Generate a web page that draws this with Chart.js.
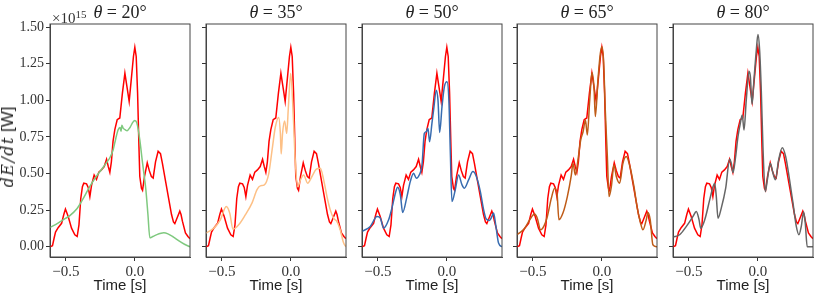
<!DOCTYPE html>
<html>
<head>
<meta charset="utf-8">
<script src="https://cdn.jsdelivr.net/npm/chart.js@4.4.1/dist/chart.umd.min.js"></script>
<style>
  body { margin: 0; background: #fff; }
  #wrap { position: relative; width: 830px; height: 297px; overflow: hidden; }
  canvas { position: absolute; top: 0; }
  .ttl { position: absolute; top: 4px; width: 140px; text-align: center; font-family: 'Liberation Serif', serif; font-size: 18px; line-height: 17px; color: #222; white-space: nowrap; }
  .ttl i { font-style: italic; }
  #offset { position: absolute; left: 52px; top: 7px; font-family: 'Liberation Serif', serif; font-size: 15px; line-height: 15px; color: #333; }
  #offset sup { font-size: 11px; vertical-align: 5px; }
  #ylab { position: absolute; left: 8px; top: 147px; transform: translate(-50%, -50%) rotate(-90deg); white-space: nowrap; color: #222; }
  #ylab i { font-family: 'DejaVu Serif', serif; font-size: 16px; letter-spacing: 1.5px; }
  #ylab span { font-family: 'Liberation Sans', sans-serif; font-size: 17px; }
</style>
</head>
<body>
<div id="wrap">
  <canvas id="c0"></canvas>
  <canvas id="c1"></canvas>
  <canvas id="c2"></canvas>
  <canvas id="c3"></canvas>
  <canvas id="c4"></canvas>
  <div id="offset">×10<sup>15</sup></div>
  <div id="ylab"><i>dE/dt</i> <span>[W]</span></div>
</div>
<script>
// Углы наблюдения
const angles = [20, 35, 50, 65, 80];

// Опорная кривая (красная), одинаковая во всех панелях
const refTime = [-0.615, -0.597, -0.585, -0.575, -0.556, -0.531, -0.515, -0.503, -0.483, -0.459, -0.435, -0.418, -0.405, -0.392, -0.38, -0.37, -0.35, -0.338, -0.326, -0.314, -0.295, -0.278, -0.261, -0.242, -0.222, -0.205, -0.193, -0.181, -0.17, -0.158, -0.145, -0.128, -0.109, -0.09, -0.072, -0.058, -0.041, -0.025, -0.01, 0.0, 0.01, 0.02, 0.03, 0.036, 0.048, 0.056, 0.07, 0.09, 0.105, 0.12, 0.133, 0.15, 0.169, 0.186, 0.2, 0.225, 0.245, 0.266, 0.28, 0.29, 0.302, 0.326, 0.335, 0.345, 0.367, 0.385, 0.4];
const refPower = [0.0, 0.007, 0.06, 0.10, 0.13, 0.16, 0.22, 0.257, 0.207, 0.127, 0.082, 0.07, 0.15, 0.33, 0.41, 0.434, 0.43, 0.405, 0.343, 0.42, 0.49, 0.46, 0.51, 0.525, 0.548, 0.598, 0.55, 0.508, 0.58, 0.72, 0.80, 0.868, 0.88, 1.05, 1.186, 1.10, 0.993, 1.15, 1.30, 1.363, 1.30, 1.05, 0.68, 0.48, 0.40, 0.386, 0.48, 0.573, 0.52, 0.48, 0.47, 0.58, 0.652, 0.636, 0.57, 0.436, 0.33, 0.22, 0.17, 0.159, 0.186, 0.243, 0.22, 0.175, 0.095, 0.07, 0.055];

// theta = 20
const time20 = [-0.615, -0.56, -0.5, -0.471, -0.42, -0.38, -0.326, -0.28, -0.24, -0.205, -0.18, -0.157, -0.138, -0.121, -0.108, -0.1, -0.094, -0.085, -0.07, -0.056, -0.035, -0.015, 0.0, 0.015, 0.036, 0.055, 0.07, 0.08, 0.095, 0.109, 0.13, 0.16, 0.19, 0.21, 0.24, 0.28, 0.32, 0.36, 0.4];
const power20 = [0.132, 0.16, 0.195, 0.213, 0.26, 0.32, 0.413, 0.48, 0.53, 0.575, 0.61, 0.663, 0.74, 0.80, 0.815, 0.79, 0.83, 0.81, 0.80, 0.793, 0.815, 0.85, 0.863, 0.845, 0.73, 0.58, 0.47, 0.39, 0.22, 0.061, 0.07, 0.083, 0.092, 0.095, 0.088, 0.066, 0.04, 0.017, 0.0];

// theta = 35
const time35 = [-0.615, -0.559, -0.511, -0.468, -0.443, -0.419, -0.378, -0.33, -0.281, -0.245, -0.221, -0.192, -0.16, -0.136, -0.112, -0.088, -0.076, -0.07, -0.06, -0.045, -0.03, -0.018, -0.001, 0.018, 0.032, 0.05, 0.07, 0.093, 0.122, 0.153, 0.185, 0.214, 0.238, 0.262, 0.286, 0.31, 0.334, 0.358, 0.383, 0.4];
const power35 = [0.093, 0.127, 0.184, 0.275, 0.23, 0.12, 0.15, 0.218, 0.30, 0.39, 0.416, 0.423, 0.50, 0.66, 0.82, 0.884, 0.775, 0.634, 0.775, 0.86, 0.775, 0.95, 1.184, 0.89, 0.59, 0.41, 0.457, 0.49, 0.434, 0.48, 0.53, 0.536, 0.457, 0.343, 0.252, 0.195, 0.173, 0.116, 0.025, 0.0];

// theta = 50
const time50 = [-0.615, -0.555, -0.506, -0.482, -0.458, -0.422, -0.398, -0.373, -0.357, -0.337, -0.32, -0.289, -0.265, -0.241, -0.221, -0.2, -0.18, -0.163, -0.149, -0.137, -0.125, -0.108, -0.096, -0.076, -0.064, -0.052, -0.035, -0.018, 0.001, 0.015, 0.025, 0.037, 0.061, 0.085, 0.11, 0.127, 0.158, 0.189, 0.214, 0.243, 0.267, 0.286, 0.31, 0.327, 0.339, 0.356, 0.375, 0.4];
const power50 = [0.105, 0.139, 0.207, 0.195, 0.127, 0.184, 0.264, 0.366, 0.407, 0.355, 0.234, 0.343, 0.445, 0.502, 0.468, 0.49, 0.559, 0.775, 0.786, 0.81, 0.718, 0.843, 0.934, 1.07, 1.0, 0.78, 0.957, 1.093, 1.127, 1.0, 0.661, 0.309, 0.389, 0.49, 0.423, 0.40, 0.457, 0.514, 0.48, 0.377, 0.252, 0.189, 0.18, 0.207, 0.23, 0.139, 0.025, 0.0];

// theta = 65
const time65 = [-0.615, -0.559, -0.523, -0.487, -0.468, -0.444, -0.419, -0.395, -0.366, -0.342, -0.325, -0.311, -0.282, -0.25, -0.221, -0.209, -0.192, -0.173, -0.153, -0.136, -0.119, -0.105, -0.088, -0.071, -0.057, -0.047, -0.028, -0.011, 0.001, 0.013, 0.025, 0.04, 0.052, 0.069, 0.088, 0.105, 0.129, 0.153, 0.177, 0.201, 0.233, 0.257, 0.281, 0.298, 0.322, 0.334, 0.351, 0.37, 0.4];
const power65 = [0.082, 0.127, 0.184, 0.223, 0.195, 0.116, 0.143, 0.207, 0.332, 0.40, 0.366, 0.184, 0.23, 0.343, 0.49, 0.57, 0.49, 0.593, 0.73, 0.786, 0.866, 0.764, 1.0, 1.19, 1.093, 0.89, 1.14, 1.32, 1.366, 1.264, 0.934, 0.616, 0.343, 0.41, 0.559, 0.48, 0.434, 0.57, 0.616, 0.559, 0.41, 0.264, 0.161, 0.116, 0.184, 0.234, 0.184, 0.014, 0.0];

// theta = 80
const time80 = [-0.615, -0.567, -0.518, -0.47, -0.446, -0.426, -0.414, -0.385, -0.349, -0.325, -0.313, -0.301, -0.289, -0.265, -0.233, -0.204, -0.192, -0.18, -0.161, -0.144, -0.127, -0.113, -0.1, -0.084, -0.064, -0.054, -0.042, -0.028, -0.011, 0.001, 0.013, 0.025, 0.037, 0.054, 0.069, 0.09, 0.11, 0.127, 0.151, 0.177, 0.202, 0.23, 0.255, 0.279, 0.298, 0.315, 0.332, 0.344, 0.358, 0.4];
const power80 = [0.066, 0.082, 0.139, 0.207, 0.241, 0.184, 0.127, 0.184, 0.32, 0.41, 0.434, 0.343, 0.195, 0.264, 0.40, 0.598, 0.57, 0.507, 0.616, 0.752, 0.843, 0.90, 0.798, 1.0, 1.2, 1.161, 0.973, 1.139, 1.343, 1.45, 1.343, 1.07, 0.684, 0.377, 0.457, 0.57, 0.502, 0.457, 0.593, 0.677, 0.616, 0.457, 0.298, 0.139, 0.082, 0.139, 0.239, 0.161, 0.0, 0.0];

const seriesTime = [time20, time35, time50, time65, time80];
const seriesPower = [power20, power35, power50, power65, power80];

// Подписи делений
const xTicks = [-0.5, 0.0];
const yTicks = [0.0, 0.25, 0.5, 0.75, 1.0, 1.25, 1.5];

// Оформление
const lineColours = ['#7fc97f', '#fdc086', '#386cb0', '#bf5b17', '#666666'];
const plotLefts = [50, 206, 362, 517, 673];
const plotWidth = 140;

const pairs = (xs, ys) => xs.map((x, i) => ({ x: x, y: ys[i] }));
const fmtX = v => (v < 0 ? '\u2212' : '') + Math.abs(v).toFixed(1);

// Рамка вокруг области графика (все четыре стороны)
const frame = {
    id: 'frame',
    afterDraw(chart) {
        const { ctx, chartArea: a } = chart;
        ctx.save();
        ctx.strokeStyle = '#444';
        ctx.lineWidth = 1;
        ctx.strokeRect(a.left, a.top, a.right - a.left, a.bottom - a.top);
        ctx.restore();
    }
};

function makePanel(i) {
    const first = i === 0;
    const yW = first ? 50 : 12;
    const canvas = document.getElementById('c' + i);
    canvas.width = yW + plotWidth + 6;
    canvas.height = 297;
    canvas.style.left = (plotLefts[i] - yW) + 'px';

    // Заголовок панели
    const t = document.createElement('div');
    t.className = 'ttl';
    t.style.left = plotLefts[i] + 'px';
    t.innerHTML = '<i>θ</i> = ' + angles[i] + '°';
    document.getElementById('wrap').appendChild(t);

    new Chart(canvas, {
        type: 'line',
        data: {
            datasets: [{
                data: pairs(seriesTime[i], seriesPower[i]),
                borderColor: lineColours[i],
                borderWidth: 1.5,
                pointRadius: 0,
                cubicInterpolationMode: 'monotone'
            }, {
                data: pairs(refTime, refPower),
                borderColor: '#ff0000',
                borderWidth: 1.5,
                pointRadius: 0,
                tension: 0
            }]
        },
        options: {
            responsive: false,
            animation: false,
            events: [],
            layout: { padding: { left: 0, right: 6, top: 24, bottom: 2 } },
            plugins: { legend: { display: false }, tooltip: { enabled: false } },
            scales: {
                x: {
                    type: 'linear',
                    min: -0.615,
                    max: 0.4,
                    afterBuildTicks: s => { s.ticks = xTicks.map(v => ({ value: v })); },
                    afterFit: s => { s.height = 38; },
                    grid: { drawOnChartArea: false, tickLength: 4, color: '#333' },
                    border: { color: '#444' },
                    ticks: {
                        autoSkip: false, maxRotation: 0, padding: 2, color: '#333',
                        font: { family: 'Liberation Serif', size: 15 },
                        callback: v => fmtX(v)
                    },
                    title: {
                        display: true, text: 'Time [s]', color: '#222',
                        font: { family: 'Liberation Sans', size: 15 },
                        padding: { top: 0, bottom: 0 }
                    }
                },
                y: {
                    min: -0.07,
                    max: 1.522,
                    afterBuildTicks: s => { s.ticks = yTicks.map(v => ({ value: v })); },
                    afterFit: s => { s.width = yW; },
                    grid: { drawOnChartArea: false, tickLength: 4, color: '#333' },
                    border: { color: '#444' },
                    ticks: {
                        autoSkip: false, padding: 2, color: '#333',
                        font: { family: 'Liberation Serif', size: 14 },
                        callback: v => first ? v.toFixed(2) : ''
                    }
                }
            }
        },
        plugins: [frame]
    });
}

angles.forEach((a, i) => makePanel(i));
</script>
</body>
</html>
